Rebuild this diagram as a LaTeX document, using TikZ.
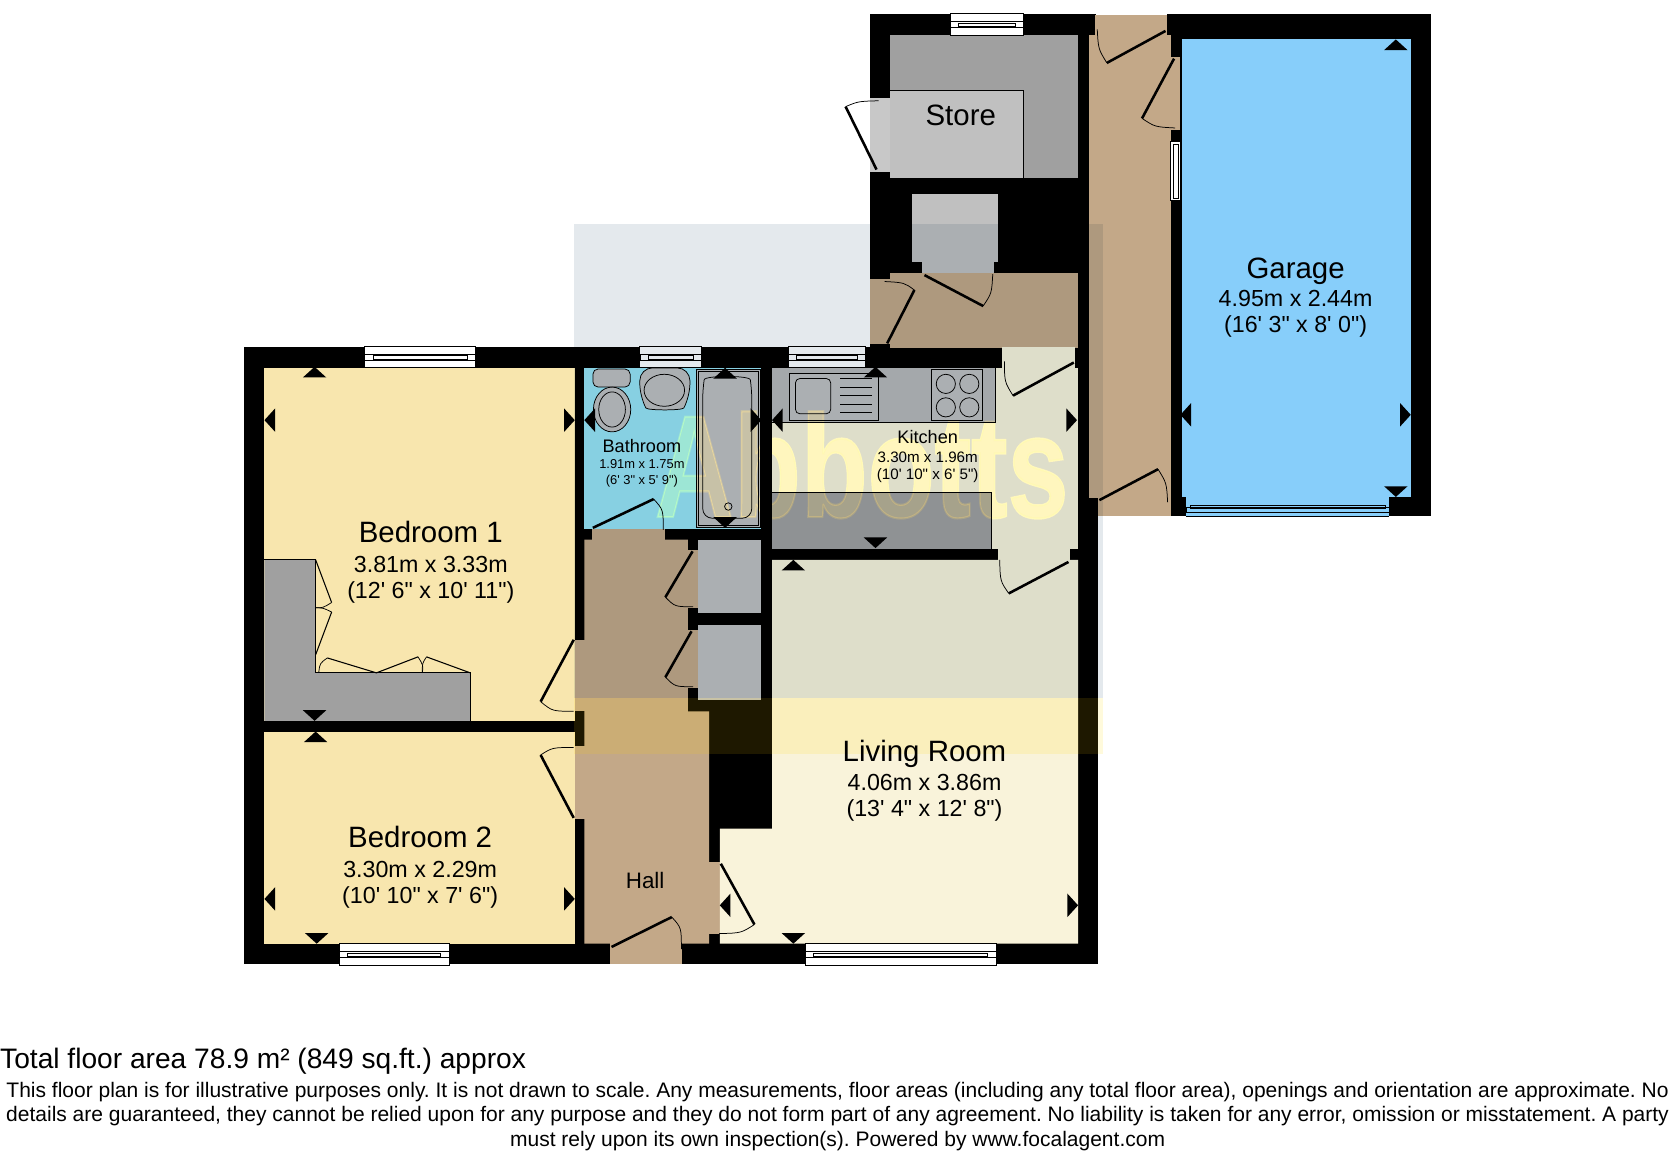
\documentclass[tikz,border=0pt]{standalone}
\usepackage{fontspec}
\usepackage{xcolor}
\usetikzlibrary{positioning}
\newfontfamily\planfont{Liberation Sans}
\newfontfamily\logofont{Liberation Sans}[BoldFeatures={FakeBold=1.5}]
\definecolor{bedcol}{HTML}{F8E6AE}
\definecolor{hallcol}{HTML}{C3A888}
\definecolor{livingcol}{HTML}{F9F3DA}
\definecolor{bathcol}{HTML}{98E4F4}
\definecolor{garagecol}{HTML}{87CEFA}
\definecolor{unitdark}{HTML}{A0A0A0}
\definecolor{unitlight}{HTML}{C0C0C0}
\definecolor{gapgrey}{HTML}{C8C8C8}
\definecolor{logotint}{HTML}{E4E9ED}
\definecolor{logoband}{HTML}{FFF9DC}
\definecolor{logoundo}{HTML}{241C12}
\definecolor{logoletter}{HTML}{FFFCE0}
\definecolor{bandglow}{HTML}{1E1800}
% measure marks, (x,y) is the apex
\newcommand{\tickU}[2]{\fill (#1,#2) -- (#1-11,#2+10) -- (#1+11,#2+10) -- cycle;}
\newcommand{\tickD}[2]{\fill (#1,#2) -- (#1-11,#2-10) -- (#1+11,#2-10) -- cycle;}
\newcommand{\tickL}[2]{\fill (#1,#2) -- (#1+10,#2-11) -- (#1+10,#2+11) -- cycle;}
\newcommand{\tickR}[2]{\fill (#1,#2) -- (#1-10,#2-11) -- (#1-10,#2+11) -- cycle;}
% windows in a wall
\newcommand{\winH}[3]{\draw[winframe] (#1,#3) rectangle (#2,#3+20);
  \draw[winthin] (#1,#3+7) rectangle (#2,#3+13);
  \draw[winthin] (#1+8,#3+8.5) rectangle (#2-8,#3+11.5);}
% door leaf and its swing: hinge, tip, control, end
\newcommand{\doorway}[4]{\draw[doorleaf] (#1) -- (#2);
  \draw[doorswing] (#2) .. controls (#3) .. (#4);}

\begin{document}
\frenchspacing
\begin{tikzpicture}[x=1pt, y=-1pt,
  doorleaf/.style={line width=2.4pt},
  doorswing/.style={line width=0.7pt},
  unitline/.style={draw=black, line width=0.7pt},
  winframe/.style={draw=black, fill=white, line width=0.8pt},
  winthin/.style={draw=black, line width=0.5pt},
  roomname/.style={font=\planfont\fontsize{27.6}{30}\selectfont, inner sep=0pt},
  roomdim/.style={font=\planfont\fontsize{21.8}{24.4}\selectfont, align=center, inner sep=0pt},
  smallname/.style={font=\planfont\fontsize{17}{20}\selectfont, inner sep=0pt},
  smalldim/.style={font=\planfont\fontsize{12.1}{15}\selectfont, align=center, inner sep=0pt},
  kitchendims/.style={font=\planfont\fontsize{14.2}{16}\selectfont, align=center, inner sep=0pt}]
\useasboundingbox (0,0) rectangle (1568,1080);

% Walls
\fill (229,325) rectangle (1030,904);
\fill (816,13) rectangle (1021,325);
\fill (816,13) rectangle (1028,33);
\fill (1094,13) rectangle (1342,484);

% Corridor
\fill[hallcol] (1021,33) rectangle (1098,467);
\fill[hallcol] (1027,14) rectangle (1094,34);
\fill[hallcol] (1030,466) rectangle (1098,484);
\fill[hallcol] (1097,53) rectangle (1107,122);

% Annex
\fill[unitdark] (835,33) rectangle (1011,167);
\fill[gapgrey] (816,92) rectangle (836,161);
\fill[unitlight] (835,85) rectangle (960,167);
\draw[unitline] (835,85) -- (960,85) -- (960,167);
\fill[unitlight] (855,182) rectangle (936,246);
\fill[unitlight] (865,246) rectangle (932,257);
\fill[hallcol] (835,256) rectangle (1011,326);
\fill[hallcol] (816,262) rectangle (836,323);

% Bedrooms
\fill[bedcol] (248,345) rectangle (539,676);
\fill[bedcol] (248,686) rectangle (539,885);

% Hall
\fill[hallcol] (548,506) -- (645,506) -- (645,667) -- (665,667) -- (665,885) -- (548,885) -- cycle;
\fill[hallcol] (555,496) rectangle (624,507);
\fill[hallcol] (644,516) rectangle (655,570);
\fill[hallcol] (644,591) rectangle (655,645);
\fill[hallcol] (572,884) rectangle (640,904);
\fill[hallcol] (539,600) rectangle (549,667);
\fill[hallcol] (539,700) rectangle (549,768);
\fill[hallcol] (664,808) rectangle (675,876);

% Cupboards
\fill[unitlight] (655,506) rectangle (714,575);
\fill[unitlight] (655,586) rectangle (714,656);

% Bathroom
\fill[bathcol] (548,345) rectangle (714,496);

% Kitchen and living room
\fill[livingcol] (724,345) rectangle (1011,515);
\fill[livingcol] (940,325) rectangle (1008,346);
\fill[livingcol] (936,514) rectangle (1003,526);
\fill[livingcol] (724,525) -- (1011,525) -- (1011,885) -- (675,885) -- (675,777) -- (724,777) -- cycle;

% Garage
\fill[garagecol] (1108,37) rectangle (1323,466);
\fill[garagecol] (1112,465) rectangle (1303,484);
\draw[winthin] (1112,476) rectangle (1303,480);
\draw[winthin] (1116,474) rectangle (1299,477);
\draw[black, line width=0.8pt] (1112,484) -- (1303,484);

% Wardrobes
\fill[unitdark] (248,525) -- (296,525) -- (296,631) -- (441,631) -- (441,676) -- (248,676) -- cycle;
\draw[unitline] (248,525) -- (296,525) -- (296,631) -- (441,631) -- (441,676);
\draw[line width=1pt] (296,525) -- (311,565);
\draw[line width=1pt] (296,614) -- (311,574);
\draw[doorswing] (296,570) .. controls (303,570) .. (311,565);
\draw[doorswing] (296,570) .. controls (303,570) .. (311,574);
\draw[line width=1pt] (307,617) -- (353,631) -- (392,616);
\draw[line width=1pt] (400,616) -- (441,631);
\draw[doorswing] (299,630) .. controls (300,622) .. (307,617);
\draw[doorswing] (392,616) .. controls (397,624) .. (396,631);
\draw[doorswing] (400,616) .. controls (396,622) .. (396,631);

% Bathroom fittings
\fill[unitlight, rounded corners=5pt] (556,346) rectangle (591,363);
\draw[unitline, rounded corners=5pt] (556,346) rectangle (591,363);
\draw[unitline, fill=unitlight] (574,384) ellipse (17.5 and 21);
\draw[unitline] (574,384) ellipse (12.5 and 16.5);
\draw[unitline, fill=unitlight, rounded corners=12pt] (600,345) -- (647,345) -- (647,372) .. controls (640,385) and (607,385) .. (600,372) -- cycle;
\draw[unitline] (623,366) ellipse (19 and 15);
\draw[unitline, fill=unitlight] (653,346) rectangle (713,495);
\draw[unitline] (655,348) rectangle (711,493);
\draw[unitline, rounded corners=9pt] (659,365) .. controls (661,352) and (703,352) .. (705,365) -- (705,486) -- (659,486) -- cycle;
\draw[unitline] (683,475) circle (3.5);

% Kitchen units
\fill[unitlight!75!unitdark] (724,345) rectangle (933,396);
\draw[unitline] (933,345) -- (933,396) -- (724,396);
\draw[unitline, fill=unitlight] (740,350) rectangle (824,394);
\draw[unitline, rounded corners=4pt] (746,355) rectangle (779,388);
\draw[unitline] (788,355) -- (818,355);
\draw[unitline] (788,363) -- (818,363);
\draw[unitline] (788,371) -- (818,371);
\draw[unitline] (788,379) -- (818,379);
\draw[unitline] (788,387) -- (818,387);
\draw[unitline, fill=unitlight] (873,346) rectangle (921,394);
\draw[unitline] (887,360) circle (9);
\draw[unitline] (909,360) circle (9);
\draw[unitline] (887,382) circle (9);
\draw[unitline] (909,382) circle (9);
\fill[unitdark] (724,462) rectangle (930,515);
\draw[unitline] (724,462) -- (930,462) -- (930,515);

% Windows
\winH{342}{446}{325}
\winH{318}{421}{885}
\winH{600}{658}{325}
\winH{739}{812}{325}
\winH{755}{934}{885}
\winH{891}{960}{13}
\draw[winframe] (1098,133) rectangle (1107,188);
\draw[winthin] (1100.5,135) rectangle (1104.5,186);

% Doors
\doorway{538,600}{507,658}{518,667}{538,667}
\doorway{538,767}{507,708}{518,701}{538,701}
\doorway{556,495}{613,468}{622,478}{622,497}
\doorway{649.5,517}{624,560}{633,569}{650,569}
\doorway{648.5,592}{624,635}{633,644}{650,644}
\doorway{573.5,888}{630,860}{639,870}{639,890}
\doorway{676,810}{707.5,867}{695,875}{674.5,875.5}
\doorway{1002,527}{946,556.5}{938,545}{937.5,525}
\doorway{1007,340}{950,371}{942,358}{942,339}
\doorway{1093,29}{1038,59}{1030,46}{1029,27.5}
\doorway{1101,55}{1071,111}{1083,119}{1102,120}
\doorway{1031,469}{1086,440}{1094,453}{1095,471}
\doorway{832,322}{857.5,272}{848,265}{829.5,264}
\doorway{867,258}{922,287}{930,275}{931,257}
\doorway{822,159}{793,100}{805,95}{824,94.5}

% Measure marks
\tickU{295}{344}
\tickL{248}{394}
\tickR{539}{394}
\tickD{295}{676}
\tickU{296}{686}
\tickL{248}{843}
\tickR{539}{843}
\tickD{297}{885}
\tickU{680}{345}
\tickD{680}{495}
\tickL{548}{394}
\tickR{714}{394}
\tickU{821}{344}
\tickD{821}{514}
\tickL{724}{394}
\tickR{1010}{394}
\tickU{744}{525}
\tickD{744}{885}
\tickL{675}{849}
\tickR{1011}{849}
\tickU{1309}{37}
\tickD{1309}{466}
\tickL{1107}{389}
\tickR{1323}{389}

% Logo over the plan
\begin{scope}[blend mode=multiply]
\fill[logotint] (538,210) rectangle (1034,655);
\fill[logoband] (538,655) rectangle (1034,707);
\end{scope}
\begin{scope}[blend mode=screen]
\fill[bandglow] (538,655) rectangle (1034,707);
\end{scope}
\begin{scope}[blend mode=color dodge]
\node[font=\logofont\bfseries\fontsize{137}{137}\selectfont, text=logoundo, xscale=0.75, transform shape, inner sep=0pt] (logobase) at (808,436) {Abbotts};
\end{scope}
\begin{scope}[blend mode=multiply]
\node[font=\logofont\bfseries\fontsize{137}{137}\selectfont, text=logoletter, xscale=0.75, transform shape, inner sep=0pt] (logotop) at (808,436) {Abbotts};
\end{scope}

% Labels
\node[roomname] (bedone) at (404,499) {Bedroom 1};
\node[roomdim, below=12pt of bedone] (bedonedim) {3.81m x 3.33m\\(12' 6" x 10' 11")};
\node[roomname] (bedtwo) at (394,785) {Bedroom 2};
\node[roomdim, below=12pt of bedtwo] (bedtwodim) {3.30m x 2.29m\\(10' 10" x 7' 6")};
\node[roomname] (living) at (867,707) {Living Room};
\node[roomdim, below=6pt of living] (livingdim) {4.06m x 3.86m\\(13' 4" x 12' 8")};
\node[roomname] (garage) at (1215,254) {Garage};
\node[roomdim, below=5pt of garage] (garagedim) {4.95m x 2.44m\\(16' 3" x 8' 0")};
\node[roomname] (store) at (901,108) {Store};
\node[smallname] (kitchen) at (870,410) {Kitchen};
\node[kitchendims, below=7pt of kitchen] (kitchendim) {3.30m x 1.96m\\(10' 10" x 6' 5")};
\node[smallname] (bathroom) at (602,418) {Bathroom};
\node[smalldim, below=6pt of bathroom] (bathroomdim) {1.91m x 1.75m\\(6' 3" x 5' 9")};
\node[font=\planfont\fontsize{21}{24}\selectfont, inner sep=0pt] (hall) at (605,826) {Hall};

% Footer
\node[font=\planfont\fontsize{26.4}{28}\selectfont, anchor=west, inner sep=0pt] (total) at (0,995) {Total floor area 78.9 m² (849 sq.ft.) approx};
\node[font=\planfont\fontsize{19.7}{22.7}\selectfont, align=center, inner sep=0pt] (disclaimer) at (785.5,1047) {This floor plan is for illustrative purposes only. It is not drawn to scale. Any measurements, floor areas (including any total floor area), openings and orientation are approximate. No\\details are guaranteed, they cannot be relied upon for any purpose and they do not form part of any agreement. No liability is taken for any error, omission or misstatement. A party\\must rely upon its own inspection(s). Powered by www.focalagent.com};
\end{tikzpicture}
\end{document}
